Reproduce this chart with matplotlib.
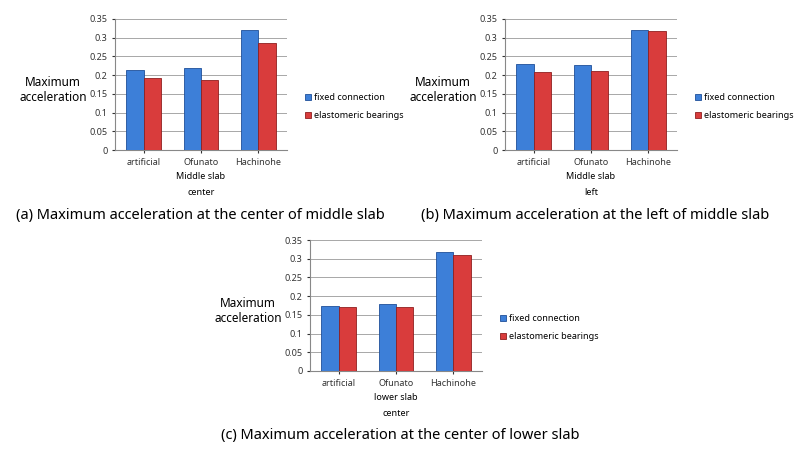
import numpy as np
import matplotlib.pyplot as plt

plt.rcParams['font.family'] = ['Noto Sans', 'DejaVu Sans']

sites = ['artificial', 'Ofunato', 'Hachinohe']
fixed_a = [0.215, 0.218, 0.320]
elast_a = [0.192, 0.188, 0.286]
fixed_b = [0.229, 0.226, 0.320]
elast_b = [0.209, 0.211, 0.317]
fixed_c = [0.173, 0.178, 0.317]
elast_c = [0.172, 0.170, 0.310]

W, H = 800, 454
fig = plt.figure(figsize=(W / 100, H / 100), dpi=100)


def panel(x0, y0, x1, y1, fixed, elast, sub, caption, cap_x, cap_y):
    ax = fig.add_axes([x0 / W, 1 - y1 / H, (x1 - x0) / W, (y1 - y0) / H])
    x = np.arange(len(sites))
    w = 0.3
    ax.bar(x - w / 2, fixed, w, color='#3d7fd8', edgecolor='#1f4f99', linewidth=0.6,
           label='fixed connection', zorder=3)
    ax.bar(x + w / 2, elast, w, color='#d93c3c', edgecolor='#8f1f1f', linewidth=0.6,
           label='elastomeric bearings', zorder=3)
    ax.set_ylim(0, 0.35)
    ax.set_xlim(-0.5, 2.5)
    yt = np.arange(0, 0.36, 0.05)
    ax.set_yticks(yt)
    ax.set_yticklabels(['0'] + [('%.2f' % v).rstrip('0') for v in yt[1:]], fontsize=6.5)
    ax.set_xticks(x)
    ax.set_xticklabels(sites, fontsize=6.5)
    ax.grid(axis='y', color='#999999', linewidth=0.6, zorder=0)
    for s in ['top', 'right']:
        ax.spines[s].set_visible(False)
    ax.spines['left'].set_color('#888888')
    ax.spines['bottom'].set_color('#888888')
    ax.tick_params(length=2, colors='#333333')
    ax.text(0.5, -0.17, sub, transform=ax.transAxes, ha='center', va='top',
            fontsize=6.5, linespacing=1.9)
    ax.text(-0.36, 0.46, 'Maximum\nacceleration', transform=ax.transAxes,
            ha='center', va='center', fontsize=8.5)
    ax.legend(loc='center left', bbox_to_anchor=(1.06, 0.33), frameon=False,
              fontsize=6.5, handlelength=0.6, handleheight=0.6, labelspacing=1.0,
              handletextpad=0.3)
    fig.text(cap_x / W, 1 - cap_y / H, caption, ha='center', va='center', fontsize=10.5)


panel(115, 19, 287, 150, fixed_a, elast_a, 'Middle slab\ncenter',
      '(a) Maximum acceleration at the center of middle slab', 200, 215)
panel(505, 19, 677, 150, fixed_b, elast_b, 'Middle slab\nleft',
      '(b) Maximum acceleration at the left of middle slab', 595, 215)
panel(310, 240, 482, 371, fixed_c, elast_c, 'lower slab\ncenter',
      '(c) Maximum acceleration at the center of lower slab', 400, 436)

fig.savefig('out.png', dpi=100)
